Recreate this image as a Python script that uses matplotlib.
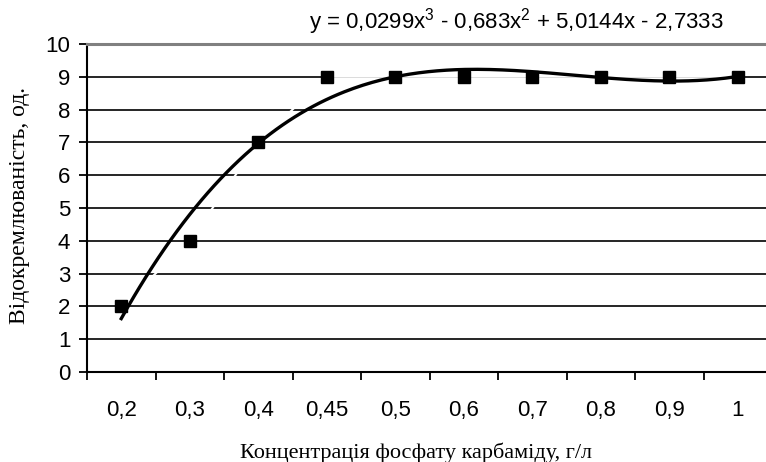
import numpy as np
import matplotlib
matplotlib.use("Agg")
import matplotlib.pyplot as plt

plt.rcParams['mathtext.fontset'] = 'custom'
plt.rcParams['mathtext.rm'] = 'Liberation Sans'
plt.rcParams['mathtext.it'] = 'Liberation Sans'

# concentration of urea phosphate, g/l (category labels)
categories = ['0,2', '0,3', '0,4', '0,45', '0,5', '0,6', '0,7', '0,8', '0,9', '1']
# separability score
values = [2, 4, 7, 9, 9, 9, 9, 9, 9, 9]
# cubic trendline coefficients (highest power first)
trend_coeffs = [0.0299, -0.683, 5.0144, -2.7333]
y_ticks = list(range(0, 11))

W, H = 766, 462
fig = plt.figure(figsize=(W / 100, H / 100), dpi=100)
ax = fig.add_axes([87 / W, 90 / H, 685 / W, 328 / H])

x = np.arange(1, len(categories) + 1)

ax.set_xlim(0.5, len(categories) + 0.5)
ax.set_ylim(0, 10)

# horizontal gridlines
for yv in y_ticks[1:-1]:
    ax.axhline(yv, color='black', lw=1.2, zorder=1)

# data series: white connecting line with black square markers
ax.plot(x, values, color='white', lw=1.5, zorder=2)
ax.plot(x, values, ls='none', marker='s', ms=8, color='black', zorder=4)

# polynomial trendline
xt = np.linspace(1, len(categories), 200)
ax.plot(xt, np.polyval(trend_coeffs, xt), color='black', lw=2.4, zorder=3)

# spines
ax.spines['right'].set_visible(False)
ax.spines['top'].set_color('#808080')
ax.spines['top'].set_linewidth(2.2)
ax.spines['left'].set_linewidth(1.5)
ax.spines['bottom'].set_linewidth(1.5)

tick_font = dict(fontfamily='Liberation Sans', fontsize=16)

# y axis ticks
ax.set_yticks(y_ticks)
ax.set_yticklabels([str(v) for v in y_ticks], **tick_font)
ax.tick_params(axis='y', direction='out', length=6, width=1.3, pad=6)

# x axis: tick marks at category boundaries, labels at centres
ax.set_xticks(np.arange(0.5, len(categories) + 1, 1))
ax.set_xticklabels([])
ax.tick_params(axis='x', which='major', direction='out', length=6, width=1.3)
ax.set_xticks(x, minor=True)
ax.set_xticklabels(categories, minor=True, **tick_font)
ax.tick_params(axis='x', which='minor', length=0, pad=20)

# axis titles
fig.text(416 / W, 4 / H, 'Концентрація фосфату карбаміду, г/л',
         ha='center', va='baseline', fontfamily='Liberation Serif', fontsize=16)
fig.text(20 / W, 1 - 205 / H, 'Відокремлюваність, од.', rotation=90,
         ha='center', va='center', fontfamily='Liberation Serif', fontsize=17)

# trendline equation
fig.text(516 / W, 1 - 22 / H,
         r'y = 0,0299x$^{3}$ - 0,683x$^{2}$ + 5,0144x - 2,7333',
         ha='center', va='center', **tick_font)

fig.savefig('out.png', dpi=100)
